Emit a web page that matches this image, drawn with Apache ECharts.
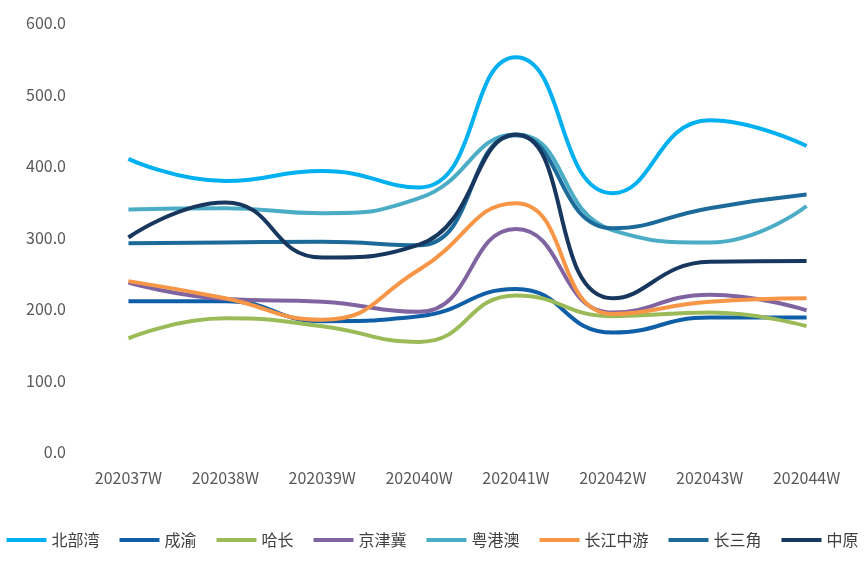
<!DOCTYPE html>
<html>
<head>
<meta charset="utf-8">
<script src="https://cdn.jsdelivr.net/npm/echarts@6/dist/echarts.min.js"></script>
<style>html,body{margin:0;padding:0;background:#fff}#main{width:865px;height:587px}</style>
</head>
<body>
<div id="main"></div>
<script>
var weeks = ['202037W','202038W','202039W','202040W','202041W','202042W','202043W','202044W'];
var beibuwan = [410, 379, 393, 370, 552, 362, 464, 428];
var chengyu = [211, 211, 183, 190, 228, 167, 188, 188];
var hachang = [159, 187, 176, 154, 219, 190, 195, 176];
var jingjinji = [237, 214, 210, 196, 312, 195, 220, 198];
var yuegangao = [339, 341, 334, 355, 444, 310, 293, 344];
var changjiang = [239, 215, 185, 255, 348, 193, 210, 215];
var changsanjiao = [292, 293, 294, 289, 443, 313, 341, 360];
var zhongyuan = [300, 349, 272, 290, 444, 215, 266, 267];

var names = ['北部湾','成渝','哈长','京津冀','粤港澳','长江中游','长三角','中原'];
var colors = ['#00B0F0','#0F5FA8','#9BBB59','#8064A2','#4BACC6','#F79646','#1B6A9A','#17375E'];
var datas = [beibuwan, chengyu, hachang, jingjinji, yuegangao, changjiang, changsanjiao, zhongyuan];

var series = names.map(function(n, i){
	return {
		name: n, type: 'line', smooth: 0.5, symbol: 'none',
		data: datas[i],
		lineStyle: {width: 4, color: colors[i]},
		itemStyle: {color: colors[i]}
	};
});

var myChart = echarts.init(document.getElementById('main'));
myChart.setOption({
	animation: false,
	textStyle: {fontFamily: '"Noto Sans CJK SC", "Noto Sans", sans-serif'},
	grid: {left: 80, right: 10, top: 23, bottom: 135},
	legend: {
		data: names, bottom: 34, left: 'center',
		itemWidth: 40, itemHeight: 4, itemGap: 20,
		icon: 'rect',
		textStyle: {fontSize: 16, color: '#404040'}
	},
	xAxis: {
		type: 'category', data: weeks, boundaryGap: true,
		axisLine: {show: false},
		axisTick: {show: false},
		axisLabel: {fontSize: 16, color: '#595959', margin: 18}
	},
	yAxis: {
		type: 'value', min: 0, max: 600, interval: 100,
		splitLine: {show: false},
		axisLabel: {fontSize: 16, color: '#595959', margin: 14, formatter: function(v){ return v.toFixed(1); }}
	},
	series: series
});
</script>
</body>
</html>
